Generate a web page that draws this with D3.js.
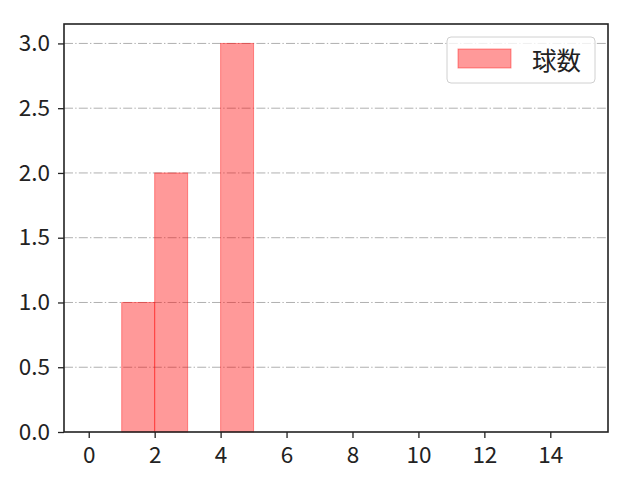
<!DOCTYPE html>
<html>
<head>
<meta charset="utf-8">
<script src="https://cdn.jsdelivr.net/npm/d3@7"></script>
<style>
  body { margin: 0; background: #fff; }
  text { font-family: "Noto Sans CJK JP", "DejaVu Sans", sans-serif; }
</style>
</head>
<body>
<div id="root"></div>
<script>
// histogram bins (left edge, right edge) and counts
const binStarts = [1, 2, 4];
const binEnds = [2, 3, 5];
const counts = [1, 2, 3];
const seriesName = '球数';
const xTicks = [0, 2, 4, 6, 8, 10, 12, 14];
const yTicks = [0.0, 0.5, 1.0, 1.5, 2.0, 2.5, 3.0];

const width = 640;
const height = 480;
const margins = { top: 24, right: 32, bottom: 48, left: 64 };

const svg = d3.select('#root')
  .append('svg')
  .attr('width', width)
  .attr('height', height);

const x = d3.scaleLinear()
  .domain([-0.75, 15.75])
  .range([margins.left, width - margins.right]);
const y = d3.scaleLinear()
  .domain([0, 3.15])
  .range([height - margins.bottom, margins.top]);

// grid
svg.append('g')
  .selectAll('line')
  .data(yTicks.filter(d => d > 0))
  .join('line')
  .attr('x1', x.range()[0])
  .attr('x2', x.range()[1])
  .attr('y1', d => y(d))
  .attr('y2', d => y(d))
  .attr('stroke', '#b0b0b0')
  .attr('stroke-width', 1)
  .attr('stroke-dasharray', '9,2.2,1.4,2.2');

// bars
const bars = binStarts.map((s, i) => ({ start: s, end: binEnds[i], count: counts[i] }));
svg.append('g')
  .selectAll('rect')
  .data(bars)
  .join('rect')
  .attr('x', d => x(d.start))
  .attr('y', d => y(d.count))
  .attr('width', d => x(d.end) - x(d.start))
  .attr('height', d => y(0) - y(d.count))
  .attr('fill', 'red')
  .attr('fill-opacity', 0.4)
  .attr('stroke', 'red')
  .attr('stroke-opacity', 0.4)
  .attr('stroke-width', 1);

// axes
const xAxis = svg.append('g')
  .attr('transform', `translate(0, ${y(0)})`)
  .call(d3.axisBottom(x).tickValues(xTicks).tickFormat(d3.format('d')).tickSizeOuter(0).tickSize(6).tickPadding(9));
const yAxis = svg.append('g')
  .attr('transform', `translate(${x.range()[0]}, 0)`)
  .call(d3.axisLeft(y).tickValues(yTicks).tickFormat(d3.format('.1f')).tickSizeOuter(0).tickSize(6).tickPadding(8));
[xAxis, yAxis].forEach(g => {
  g.select('.domain').remove();
  g.selectAll('.tick line').attr('stroke', '#222').attr('stroke-width', 1.3);
  g.selectAll('.tick text').attr('font-size', 22.5).attr('fill', '#222')
    .style('font-family', '"Noto Sans CJK JP", sans-serif');
});

// frame
svg.append('rect')
  .attr('x', x.range()[0])
  .attr('y', y.range()[1])
  .attr('width', x.range()[1] - x.range()[0])
  .attr('height', y.range()[0] - y.range()[1])
  .attr('fill', 'none')
  .attr('stroke', '#222')
  .attr('stroke-width', 1.6);

// legend
const legend = svg.append('g').attr('transform', 'translate(447, 37)');
legend.append('rect')
  .attr('width', 148)
  .attr('height', 46)
  .attr('rx', 4)
  .attr('fill', '#fff')
  .attr('fill-opacity', 0.8)
  .attr('stroke', '#d0d0d0');
legend.append('rect')
  .attr('x', 11)
  .attr('y', 12)
  .attr('width', 53)
  .attr('height', 19)
  .attr('fill', 'red')
  .attr('fill-opacity', 0.4)
  .attr('stroke', 'red')
  .attr('stroke-opacity', 0.4);
legend.append('text')
  .attr('x', 85)
  .attr('y', 22)
  .attr('dominant-baseline', 'central')
  .attr('font-size', 24.5)
  .attr('fill', '#222')
  .text(seriesName);
</script>
</body>
</html>
